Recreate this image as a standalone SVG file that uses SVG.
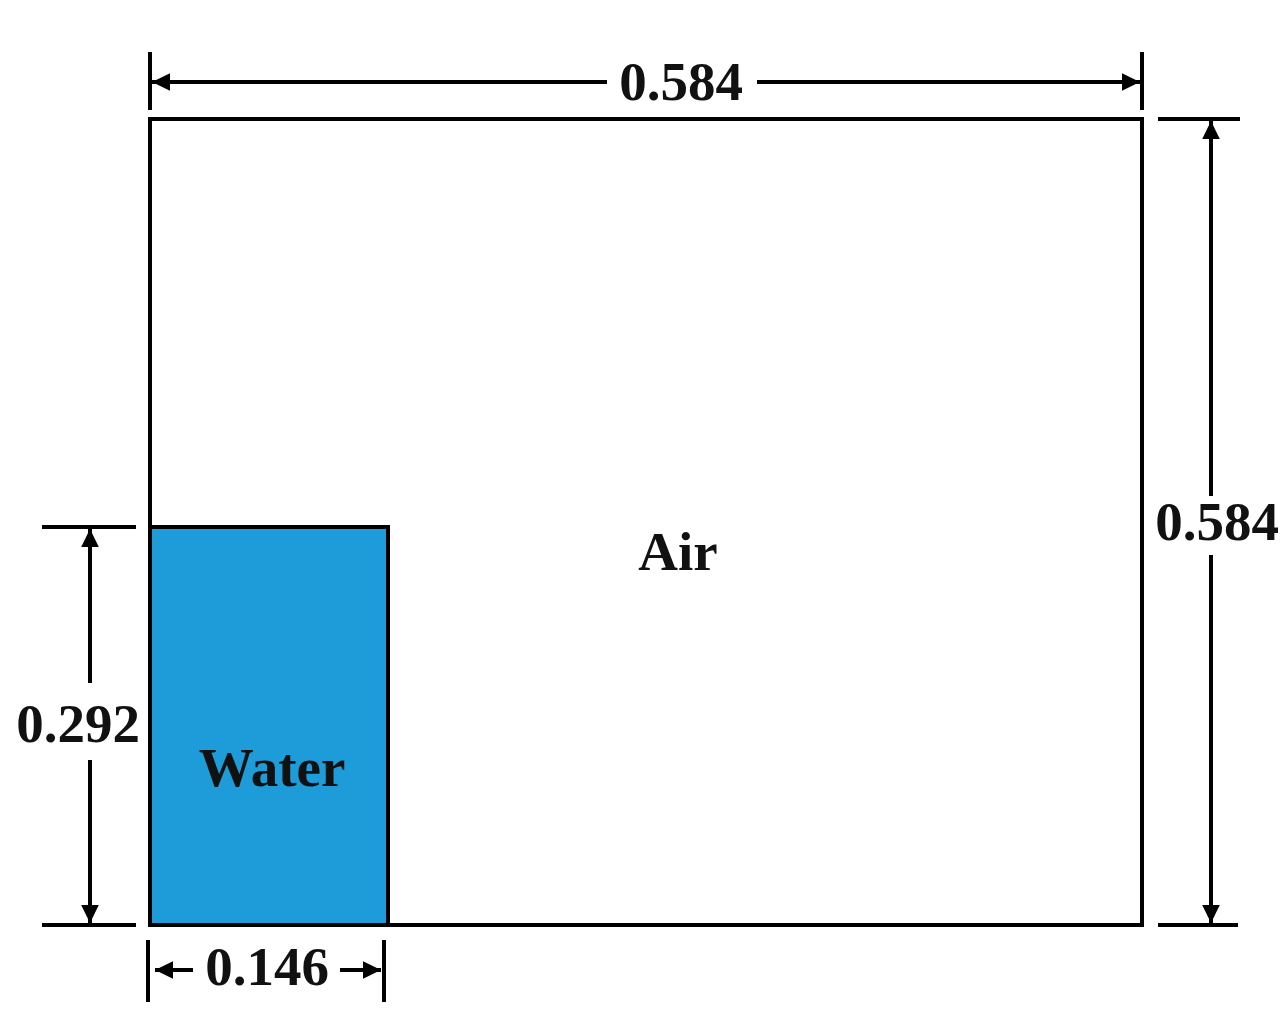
<svg xmlns="http://www.w3.org/2000/svg" width="1286" height="1026" viewBox="0 0 1286 1026">
<style>
.ln{stroke:#000;stroke-width:4;fill:none}
.t{font-family:"Liberation Serif","Times New Roman",serif;font-weight:bold;font-size:55px;fill:#111;text-anchor:middle}
</style>
<defs>
<marker id="ah" viewBox="0 0 10 10" refX="10" refY="5" markerWidth="4.5" markerHeight="4.4" orient="auto-start-reverse" markerUnits="strokeWidth" preserveAspectRatio="none">
<path d="M0,0 L10,5 L0,10 Z" fill="#000"/>
</marker>
</defs>
<rect width="1286" height="1026" fill="#fff"/>
<g id="domain">
<rect x="150" y="119" width="992" height="806" class="ln"/>
</g>
<g id="water">
<rect x="150" y="527" width="238" height="398" fill="#1e9cd9" stroke="#000" stroke-width="4"/>
<text x="272" y="786" class="t">Water</text>
</g>
<g id="air">
<text x="678" y="570" class="t">Air</text>
</g>
<g id="connectors">
<line x1="150" y1="52" x2="150" y2="110" class="ln"/>
<line x1="1142" y1="52" x2="1142" y2="110" class="ln"/>
<line x1="607" y1="82" x2="152" y2="82" class="ln" marker-end="url(#ah)"/>
<line x1="757" y1="82" x2="1140" y2="82" class="ln" marker-end="url(#ah)"/>
<line x1="1158" y1="119" x2="1240" y2="119" class="ln"/>
<line x1="1158" y1="925" x2="1238" y2="925" class="ln"/>
<line x1="1211" y1="496" x2="1211" y2="121" class="ln" marker-end="url(#ah)"/>
<line x1="1211" y1="555" x2="1211" y2="923" class="ln" marker-end="url(#ah)"/>
<line x1="42" y1="527" x2="136" y2="527" class="ln"/>
<line x1="42" y1="925" x2="136" y2="925" class="ln"/>
<line x1="90" y1="683" x2="90" y2="529" class="ln" marker-end="url(#ah)"/>
<line x1="90" y1="760" x2="90" y2="923" class="ln" marker-end="url(#ah)"/>
<line x1="148" y1="940" x2="148" y2="1002" class="ln"/>
<line x1="384" y1="940" x2="384" y2="1002" class="ln"/>
<line x1="193" y1="970" x2="155" y2="970" class="ln" marker-end="url(#ah)"/>
<line x1="340" y1="970" x2="381" y2="970" class="ln" marker-end="url(#ah)"/>
</g>
<g id="labels">
<text x="681" y="100" class="t">0.584</text>
<text x="1217" y="540" class="t">0.584</text>
<text x="78" y="742" class="t">0.292</text>
<text x="267" y="985" class="t">0.146</text>
</g>
</svg>
